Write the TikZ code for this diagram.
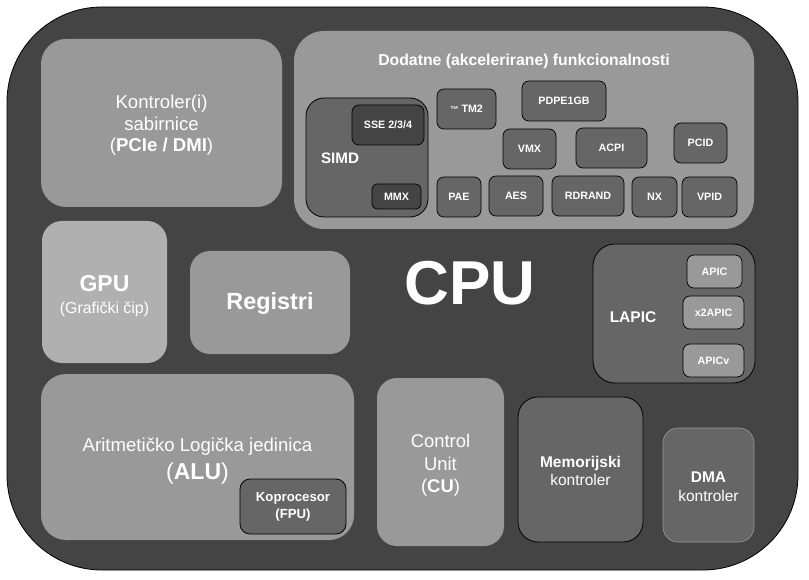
\documentclass[tikz,border=0pt]{standalone}
\usepackage{fontspec}
\setmainfont{Liberation Sans}
\definecolor{bgd}{HTML}{444444}
\definecolor{midg}{HTML}{999999}
\definecolor{drkg}{HTML}{666666}
\definecolor{lgtg}{HTML}{B0B0B0}
\newcommand\fsz[2]{\fontsize{#1}{#2}\selectfont}
\begin{document}
\begin{tikzpicture}[x=1pt,y=-1pt,
  lbox/.style={fill=midg, draw=none, rounded corners=#1, inner sep=0pt, text=white, align=center},
  lbox/.default=20pt,
  dbox/.style={fill=drkg, draw=black, line width=0.8pt, rounded corners=#1, inner sep=0pt, text=white, align=center},
  dbox/.default=20pt,
  chip/.style={fill=drkg, draw=black, line width=0.7pt, rounded corners=7pt, inner sep=0pt, text=white, align=center, font=\fsz{10.7}{12}\bfseries},
  lbl/.style={text=white, inner sep=0pt, align=center}]
\useasboundingbox (0,0) rectangle (809,580);
% outer CPU body
\node[fill=bgd, draw=black, line width=0.8pt, rounded corners=95pt, minimum width=791pt, minimum height=563pt, inner sep=0pt] (body) at (402.5,288.5) {};
\node[lbl, font=\fsz{62}{70}\bfseries] (cpu) at (470,283) {CPU};

% Kontroler sabirnice
\node[lbox=25pt, minimum width=241pt, minimum height=168pt] (kon) at (161.5,123) {};
\node[lbl, font=\fsz{18.6}{21.5}] (kont) at (161.5,125.5) {Kontroler(i)\\sabirnice\\(\textbf{PCIe / DMI})};

% Dodatne funkcionalnosti
\node[lbox=30pt, minimum width=460pt, minimum height=198pt] (dod) at (524,130) {};
\node[lbl, font=\fsz{15.8}{18}\bfseries] (dodt) at (524,61) {Dodatne (akcelerirane) funkcionalnosti};
\node[dbox=18pt, minimum width=122pt, minimum height=119pt] (simd) at (367,157.5) {};
\node[lbl, font=\fsz{15.2}{18}\bfseries] (simdt) at (340,158) {SIMD};
\node[chip, fill=bgd, minimum width=72pt, minimum height=40pt] (sse) at (388,125) {SSE 2/3/4};
\node[chip, fill=bgd, rounded corners=5pt, minimum width=49pt, minimum height=25pt] (mmx) at (396.5,196.5) {MMX};
\node[chip, minimum width=59pt, minimum height=40pt] (tm2) at (466.5,109) {{\fsz{8.5}{9}™} TM2};
\node[chip, minimum width=84pt, minimum height=40pt] (pdpe) at (564,101) {PDPE1GB};
\node[chip, minimum width=53pt, minimum height=40pt] (vmx) at (529.5,149) {VMX};
\node[chip, minimum width=71pt, minimum height=40pt] (acpi) at (611.5,148) {ACPI};
\node[chip, minimum width=53pt, minimum height=40pt] (pcid) at (700.5,143) {PCID};
\node[chip, minimum width=44pt, minimum height=40pt] (pae) at (459,197) {PAE};
\node[chip, minimum width=54pt, minimum height=40pt] (aes) at (516,196) {AES};
\node[chip, minimum width=72pt, minimum height=40pt] (rdrand) at (588,196) {RDRAND};
\node[chip, minimum width=45pt, minimum height=40pt] (nx) at (654.5,197) {NX};
\node[chip, minimum width=55pt, minimum height=40pt] (vpid) at (709.5,197) {VPID};

% LAPIC
\node[dbox=22pt, minimum width=162pt, minimum height=139pt] (lapic) at (674,313.5) {};
\node[lbl, font=\fsz{15.5}{18}\bfseries] (lapict) at (633,317) {LAPIC};
\node[chip, fill=midg, minimum width=55pt, minimum height=33pt] (apic) at (714.5,271.5) {APIC};
\node[chip, fill=midg, minimum width=61pt, minimum height=33pt] (x2apic) at (713.5,312.5) {x2APIC};
\node[chip, fill=midg, minimum width=61pt, minimum height=33pt] (apicv) at (713.5,360.5) {APICv};

% GPU
\node[lbox=20pt, fill=lgtg, minimum width=125pt, minimum height=142pt] (gpu) at (104.5,292) {};
\node[lbl, font=\fsz{23}{26}\bfseries] (gput) at (104.5,284) {GPU};
\node[lbl, font=\fsz{15.9}{18}] (gpus) at (104.5,309) {(Grafički čip)};

% Registri
\node[lbox=20pt, minimum width=160pt, minimum height=103pt] (reg) at (270,302.5) {};
\node[lbl, font=\fsz{23.4}{26}\bfseries] (regt) at (270,304) {Registri};

% ALU
\node[lbox=25pt, minimum width=313pt, minimum height=166pt] (alu) at (197.5,457) {};
\node[lbl, font=\fsz{18.6}{21}] (alut) at (197.5,447) {Aritmetičko Logička jedinica};
\node[lbl, font=\fsz{23}{26}] (alus) at (197.5,474) {(\textbf{ALU})};
\node[dbox=10pt, minimum width=106pt, minimum height=55pt, font=\fsz{13.2}{17}\bfseries] (fpu) at (293,506.5) {Koprocesor\\(FPU)};

% Control Unit
\node[lbox=20pt, minimum width=127pt, minimum height=168pt] (cu) at (440.5,462) {};
\node[lbl, font=\fsz{18.4}{22.5}] (cut) at (440.5,465.5) {Control\\Unit\\(\textbf{CU})};

% Memorijski kontroler
\node[dbox=20pt, minimum width=125pt, minimum height=145pt] (mem) at (580.5,469.5) {};
\node[lbl, font=\fsz{15.5}{18.5}] (memt) at (580.5,471) {\textbf{Memorijski}\\kontroler};

% DMA kontroler
\node[dbox=15pt, draw=midg, line width=0.6pt, minimum width=91pt, minimum height=114pt] (dma) at (708.5,485) {};
\node[lbl, font=\fsz{15.5}{19.5}] (dmat) at (708.5,486.5) {\textbf{DMA}\\kontroler};
\end{tikzpicture}
\end{document}
